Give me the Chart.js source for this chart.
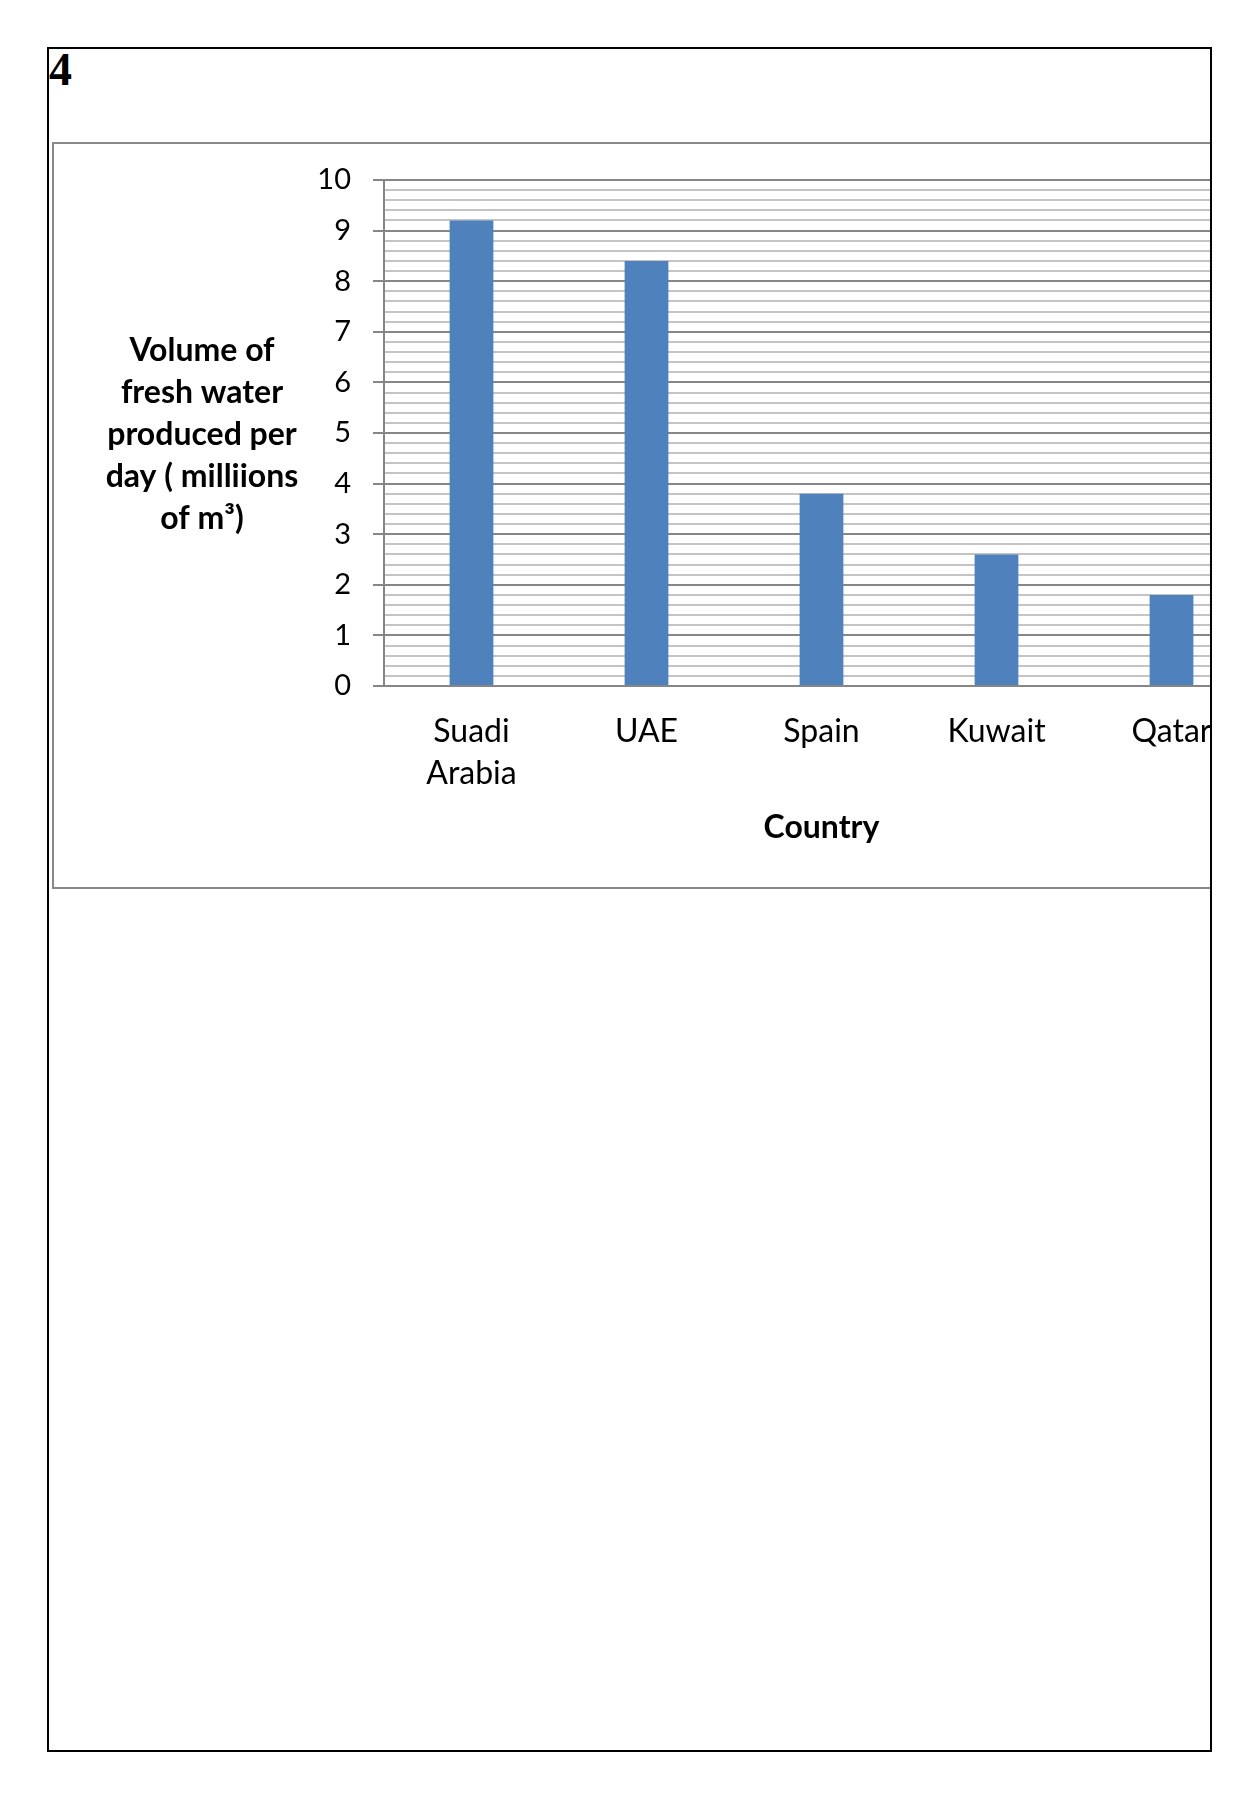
<!DOCTYPE html>
<html>
<head>
<meta charset="utf-8">
<script src="https://cdn.jsdelivr.net/npm/chart.js@4.4.1/dist/chart.umd.min.js"></script>
<style>
	html, body { margin: 0; padding: 0; background: #fff; }
	#page { position: absolute; left: 47px; top: 47px; width: 1161px; height: 1701px; border: 2px solid #000; overflow: hidden; }
	#num { position: absolute; left: 0; top: -2px; font: bold 46px "Liberation Serif", serif; line-height: 1; }
	#box { position: absolute; left: 3px; top: 93px; width: 1240px; height: 743px; border: 2px solid #898989; border-right: none; }
</style>
</head>
<body>
<div id="page">
	<div id="num">4</div>
	<div id="box"><canvas id="chart"></canvas></div>
</div>
<script>
const countries = [['Suadi', 'Arabia'], 'UAE', 'Spain', 'Kuwait', 'Qatar'];
const volumes = [9.2, 8.4, 3.8, 2.6, 1.8];
const yMin = 0;
const yMax = 10;
const yMinorStep = 0.2;
const yTitleLines = ['Volume of', 'fresh water', 'produced per', 'day ( milliions', 'of m³)'];
const xTitle = 'Country';

const isMajor = v => Math.abs(v - Math.round(v)) < 1e-6;

//Draws the y axis title horizontally, the way the spreadsheet does
const yTitlePlugin = {
	id: 'yTitle',
	afterDraw(chart) {
		const area = chart.chartArea;
		const ctx = chart.ctx;
		const lineHeight = 42.2;
		const x = area.left - 182;
		const mid = (area.top + area.bottom) / 2 + 12;
		ctx.save();
		ctx.font = 'bold 32px Lato';
		ctx.fillStyle = '#000';
		ctx.textAlign = 'center';
		ctx.textBaseline = 'alphabetic';
		yTitleLines.forEach(function(line, i) {
			ctx.fillText(line, x, mid + (i - (yTitleLines.length - 1) / 2) * lineHeight);
		});
		ctx.restore();
	}
};

new Chart(document.getElementById('chart'), {
	type: 'bar',
	data: {
		labels: countries,
		datasets: [{
			data: volumes,
			backgroundColor: '#4f81bd',
			barPercentage: 0.25,
			categoryPercentage: 1
		}]
	},
	options: {
		responsive: true,
		maintainAspectRatio: false,
		animation: false,
		layout: {
			padding: {top: 36, right: 35, bottom: 0, left: 0}
		},
		plugins: {
			legend: {display: false},
			tooltip: {enabled: false}
		},
		scales: {
			x: {
				grid: {display: false, drawTicks: false},
				border: {display: true, color: '#868686', width: 2},
				ticks: {
					color: '#000',
					font: {family: 'Lato', size: 32, lineHeight: 1.3},
					padding: 25,
					maxRotation: 0,
					autoSkip: false
				},
				title: {
					display: true,
					text: xTitle,
					color: '#000',
					font: {family: 'Lato', size: 32, weight: 'bold'},
					padding: {top: 0, bottom: 40}
				},
				afterFit(scale) {
					scale.height = 201;
				}
			},
			y: {
				min: yMin,
				max: yMax,
				grid: {
					color: ctx => isMajor(ctx.tick.value) ? '#868686' : '#c4c4c4',
					lineWidth: 2,
					tickLength: 11,
					tickColor: ctx => isMajor(ctx.tick.value) ? '#868686' : 'rgba(0,0,0,0)'
				},
				border: {display: true, color: '#868686', width: 2},
				ticks: {
					stepSize: yMinorStep,
					autoSkip: false,
					color: '#000',
					font: {family: 'Lato', size: 29, lineHeight: 0.9},
					padding: 22,
					callback: v => isMajor(v) ? String(Math.round(v)) : ''
				},
				afterFit(scale) {
					scale.width = 330;
				}
			}
		}
	},
	plugins: [yTitlePlugin]
});
</script>
</body>
</html>
